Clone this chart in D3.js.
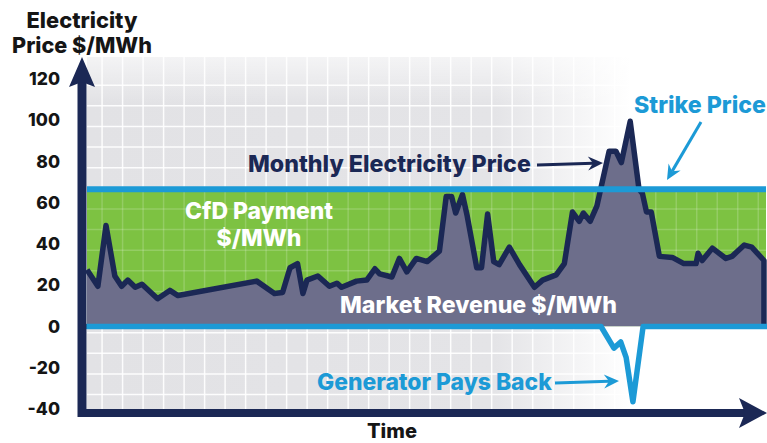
<!DOCTYPE html>
<html>
<head>
<meta charset="utf-8">
<script src="https://cdn.jsdelivr.net/npm/d3@7"></script>
<style>
  body { margin: 0; background: #fff; }
  svg text { font-family: "Inter", "Open Sans", sans-serif; font-weight: 800; }
</style>
</head>
<body>
<svg id="chart" width="767" height="443"></svg>
<script>
// time runs 0..100 across the plot, no ticks on it
var timeIdx = [0, 1.6, 2.8, 4.1, 5.1, 6.0, 7.1, 8.1, 10.4, 12.2, 13.4, 25.0, 27.6, 28.8, 29.9, 31.0, 31.8, 32.4,
    34.0, 35.7, 36.8, 37.5, 39.7, 41.2, 42.4, 43.1, 44.9, 46.0, 47.1, 48.5, 50.1, 51.9, 52.9, 53.7, 54.3, 55.3,
    56.0, 57.4, 58.1, 59.0, 59.9, 60.7, 62.2, 63.7, 65.9, 67.1, 69.1, 70.3, 71.5, 72.5, 73.1, 74.1, 75.1, 76.9,
    77.9, 78.7, 80.0, 81.3, 81.8, 82.4, 83.1, 84.3, 86.2, 87.9, 89.7, 90.0, 90.6, 92.1, 94.1, 95.0, 96.8, 97.9, 99.7];
var monthlyPrice = [27.5, 19.5, 49, 24.5, 19.5, 22.5, 19, 20.5, 13.5, 17.5, 15, 22, 16, 16.5, 28.5, 30.5, 16, 22.5,
    24.5, 19.5, 21, 19, 22, 22.5, 28, 25.5, 24, 33, 26.5, 33, 31.5, 36.5, 63, 63, 55, 64, 53.5,
    28.5, 28.5, 54.5, 31.5, 30, 38.5, 30, 19, 22.5, 25, 30.5, 55.5, 51, 55, 51, 58.5, 85,
    85, 79.5, 99.5, 66.5, 64.5, 55.5, 55.5, 34, 33.5, 30.5, 30.5, 35.5, 32, 38, 33, 34, 39.5, 38.5, 32];

var strikePrice = 66.5;

// the zero line dips where the generator pays back
var paybackIdx = [0, 75.7, 77.6, 78.6, 79.4, 80.4, 81.9, 100];
var paybackVal = [0, 0, -10.5, -7.5, -15, -36.5, 0, 0];

var yTicks = [120, 100, 80, 60, 40, 20, 0, -20, -40];

var navy = "#1b2855", blue = "#1c9ad6", green = "#7dc242", purple = "#6d6e8b";

var svg = d3.select("#chart");
var x = d3.scaleLinear().domain([0, 100]).range([87, 766]);
var y = d3.scaleLinear().domain([-40, 120]).range([409, 79]);

var defs = svg.append("defs");
var bgGrad = defs.append("linearGradient").attr("id", "bgfade")
    .attr("x1", "0%").attr("x2", "100%").attr("y1", "0%").attr("y2", "0%");
bgGrad.append("stop").attr("offset", "0%").attr("stop-color", "#e2e2e5");
bgGrad.append("stop").attr("offset", "60%").attr("stop-color", "#e4e4e7");
bgGrad.append("stop").attr("offset", "80%").attr("stop-color", "#ffffff");
var topGrad = defs.append("linearGradient").attr("id", "topfade")
    .attr("x1", "0%").attr("x2", "0%").attr("y1", "0%").attr("y2", "100%");
topGrad.append("stop").attr("offset", "0%").attr("stop-color", "#fff").attr("stop-opacity", 0.6);
topGrad.append("stop").attr("offset", "35%").attr("stop-color", "#fff").attr("stop-opacity", 0);

// background grid
svg.append("rect")
    .attr("x", x(0)).attr("y", 57)
    .attr("width", x(100) - x(0)).attr("height", y(-40) - 57)
    .attr("fill", "url(#bgfade)");

var vLines = d3.range(-0.8, 100, 3.02);
var hLines = d3.range(-33, 120, 10);

function drawGrid(g, color, op) {
    g.selectAll("line.v").data(vLines).enter().append("line")
        .attr("x1", d => x(d)).attr("x2", d => x(d))
        .attr("y1", 57).attr("y2", y(-40))
        .attr("stroke", color).attr("stroke-opacity", op).attr("stroke-width", 1.5);
    g.selectAll("line.h").data(hLines).enter().append("line")
        .attr("x1", x(0)).attr("x2", x(100))
        .attr("y1", d => y(d)).attr("y2", d => y(d))
        .attr("stroke", color).attr("stroke-opacity", op).attr("stroke-width", 1.5);
}
drawGrid(svg.append("g"), "#fff", 0.9);

svg.append("rect")
    .attr("x", x(0)).attr("y", 57)
    .attr("width", x(100) - x(0)).attr("height", y(strikePrice) - 57)
    .attr("fill", "url(#topfade)");

// CfD payment band
svg.append("rect")
    .attr("x", x(0)).attr("y", y(strikePrice))
    .attr("width", x(100) - x(0)).attr("height", y(0) - y(strikePrice))
    .attr("fill", green);
defs.append("clipPath").attr("id", "greenclip").append("rect")
    .attr("x", x(0)).attr("y", y(strikePrice))
    .attr("width", x(100) - x(0)).attr("height", y(0) - y(strikePrice));
drawGrid(svg.append("g").attr("clip-path", "url(#greenclip)"), "#fff", 0.18);

// market revenue area
var priceData = timeIdx.map((t, i) => ({ t: t, v: monthlyPrice[i] }));
var area = d3.area().x(d => x(d.t)).y0(y(0)).y1(d => y(d.v));
svg.append("path")
    .datum(priceData)
    .attr("d", area)
    .attr("fill", purple);
var lineData = priceData.concat([{ t: priceData[priceData.length - 1].t, v: 0 }]);
svg.append("path")
    .datum(lineData)
    .attr("d", d3.line().x(d => x(d.t)).y(d => y(d.v)))
    .attr("fill", "none")
    .attr("stroke", navy)
    .attr("stroke-width", 5.5)
    .attr("stroke-linejoin", "round");

// strike price line
svg.append("line")
    .attr("x1", x(0)).attr("x2", x(100))
    .attr("y1", y(strikePrice)).attr("y2", y(strikePrice))
    .attr("stroke", blue).attr("stroke-width", 6);

// zero line with payback dip
var payData = paybackIdx.map((t, i) => ({ t: t, v: paybackVal[i] }));
svg.append("path")
    .datum(payData)
    .attr("d", d3.area().x(d => x(d.t)).y0(y(0)).y1(d => y(d.v)))
    .attr("fill", "#fff");
svg.append("path")
    .datum(payData)
    .attr("d", d3.line().x(d => x(d.t)).y(d => y(d.v)))
    .attr("fill", "none")
    .attr("stroke", blue)
    .attr("stroke-width", 5.5)
    .attr("stroke-linejoin", "round")
    .attr("stroke-linecap", "round");

// axes with arrow heads
var axX = 82, axY = 413;
svg.append("line").attr("x1", axX).attr("x2", axX).attr("y1", axY + 4).attr("y2", 80)
    .attr("stroke", navy).attr("stroke-width", 9);
svg.append("path")
    .attr("d", `M${axX},57 L${axX + 13},87 L${axX},82 L${axX - 13},87 Z`)
    .attr("fill", navy);
svg.append("line").attr("x1", axX - 4).attr("x2", 748).attr("y1", axY).attr("y2", axY)
    .attr("stroke", navy).attr("stroke-width", 8);
svg.append("path")
    .attr("d", `M767,${axY} L739,${axY - 15} L745,${axY} L739,${axY + 15} Z`)
    .attr("fill", navy);

svg.selectAll("text.tick").data(yTicks).enter().append("text")
    .attr("class", "tick")
    .attr("x", 60).attr("y", d => y(d) + 6)
    .attr("text-anchor", "end")
    .attr("font-size", 17.5)
    .attr("fill", "#151515")
    .text(d => d);

// size each label so it spans the same width as in the source graphic
function label(txt, px, py, width, color, anchor) {
    var t = svg.append("text").attr("x", px).attr("y", py)
        .attr("font-size", 20).attr("fill", color)
        .attr("text-anchor", anchor || "start")
        .text(txt);
    var w = t.node().getComputedTextLength();
    t.attr("font-size", 20 * width / w);
}
label("Electricity", 82, 28, 111, "#151515", "middle");
label("Price $/MWh", 82, 53, 140, "#151515", "middle");
label("CfD Payment", 259, 219, 148, "#fff", "middle");
label("$/MWh", 259, 246, 85, "#fff", "middle");
label("Monthly Electricity Price", 248, 172, 283, navy);
label("Strike Price", 634, 113, 132, blue);
label("Market Revenue $/MWh", 340, 313, 277, "#fff");
label("Generator Pays Back", 317, 390, 235, blue);
label("Time", 392, 438, 50, "#151515", "middle");

function arrow(x1, y1, x2, y2, color) {
    var ang = Math.atan2(y2 - y1, x2 - x1);
    var L = 15, W = 7;
    var bx = x2 - L * Math.cos(ang), by = y2 - L * Math.sin(ang);
    var nx = -Math.sin(ang), ny = Math.cos(ang);
    var ix = x2 - (L - 5) * Math.cos(ang), iy = y2 - (L - 5) * Math.sin(ang);
    svg.append("line").attr("x1", x1).attr("y1", y1).attr("x2", ix).attr("y2", iy)
        .attr("stroke", color).attr("stroke-width", 3);
    svg.append("path")
        .attr("d", `M${x2},${y2} L${bx + nx * W},${by + ny * W} L${ix},${iy} L${bx - nx * W},${by - ny * W} Z`)
        .attr("fill", color);
}
arrow(537, 165, 603, 163, navy);
arrow(701, 122, 667, 180, blue);
arrow(555, 383, 619, 381, blue);
</script>
</body>
</html>
